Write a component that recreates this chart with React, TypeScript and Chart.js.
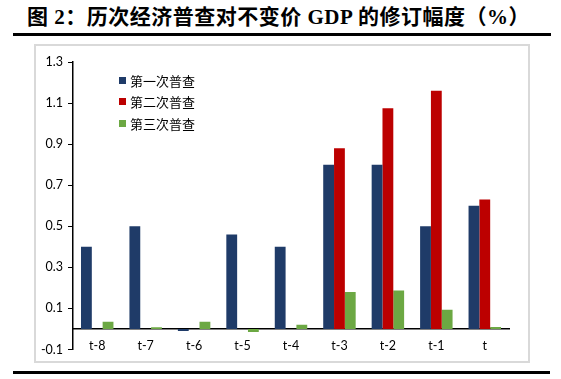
import React, { useEffect, useRef } from "react";
import { Chart, registerables } from "chart.js";

Chart.register(...registerables);

const categories = ["t-8", "t-7", "t-6", "t-5", "t-4", "t-3", "t-2", "t-1", "t"];
const seriesNames = ["第一次普查", "第二次普查", "第三次普查"];
const census1 = [0.4, 0.5, -0.01, 0.46, 0.4, 0.8, 0.8, 0.5, 0.6];
const census2 = [null, null, null, null, null, 0.88, 1.075, 1.16, 0.63];
const census3 = [0.035, 0.008, 0.035, -0.015, 0.02, 0.18, 0.187, 0.093, 0.01];
const seriesColors = ["#1F3B68", "#BC0000", "#6CA843"];
const yTicks = { min: -0.1, max: 1.3, step: 0.2 };
const titleText = "图 2：历次经济普查对不变价 GDP 的修订幅度（%）";

const tickFont = { family: "Lato, 'Liberation Sans', sans-serif", size: 12.5 };

export default function App() {
  const canvasRef = useRef<HTMLCanvasElement | null>(null);

  useEffect(() => {
    const canvas = canvasRef.current;
    if (!canvas) return;
    const chart = new Chart(canvas, {
      type: "bar",
      data: {
        labels: categories,
        datasets: [census1, census2, census3].map((d, i) => ({
          label: seriesNames[i],
          data: d as (number | null)[],
          backgroundColor: seriesColors[i],
          borderWidth: 0,
          categoryPercentage: 0.67,
          barPercentage: 1.0,
        })),
      },
      options: {
        animation: false,
        responsive: false,
        maintainAspectRatio: false,
        layout: { padding: { top: 17, bottom: 12, right: 20, left: 0 } },
        plugins: { legend: { display: false }, tooltip: { enabled: false }, title: { display: false } },
        scales: {
          x: {
            position: { y: 0 } as any,
            grid: { display: false, drawTicks: false },
            border: { display: true, color: "#000", width: 1.5 },
            ticks: { color: "#000", font: tickFont, padding: 10, maxRotation: 0 },
          },
          y: {
            min: yTicks.min,
            max: yTicks.max,
            afterFit: (s: any) => {
              s.width = 38;
            },
            ticks: {
              stepSize: yTicks.step,
              color: "#000",
              font: tickFont,
              padding: 5,
              callback: (v: any) => Number(v).toFixed(1),
            },
            grid: { display: true, drawOnChartArea: false, drawTicks: true, tickLength: 5, color: "#000", lineWidth: 1 },
            border: { display: true, color: "#000", width: 1.5 },
          },
        },
      },
    });
    return () => chart.destroy();
  }, []);

  return (
    <div style={{ position: "absolute", left: 0, top: 0, width: 561, height: 379, background: "#fff", overflow: "hidden" }}>
      <div
        style={{
          position: "absolute",
          left: 27,
          top: 4,
          fontFamily: "'Liberation Serif', 'Noto Sans CJK SC', serif",
          fontWeight: "bold",
          fontSize: 21,
          letterSpacing: 0.5,
          lineHeight: "27px",
          whiteSpace: "nowrap",
          color: "#000",
        }}
      >
        {titleText}
      </div>
      <div style={{ position: "absolute", left: 13, top: 33, width: 538, height: 2.5, background: "#000" }} />
      <div
        style={{
          position: "absolute",
          left: 34,
          top: 44,
          width: 496,
          height: 319,
          border: "2px solid #d9d9d9",
          boxSizing: "border-box",
        }}
      />
      <canvas
        ref={canvasRef}
        width={494}
        height={317}
        style={{ position: "absolute", left: 35, top: 45, width: 494, height: 317 }}
      />
      {seriesNames.map((name, i) => (
        <div
          key={name}
          style={{
            position: "absolute",
            left: 119,
            top: 71 + i * 21.5,
            height: 18,
            display: "flex",
            alignItems: "center",
            fontFamily: "'Noto Sans CJK SC', sans-serif",
            fontSize: 13,
            color: "#000",
            whiteSpace: "nowrap",
          }}
        >
          <span style={{ display: "inline-block", width: 7, height: 7, background: seriesColors[i], marginRight: 4 }} />
          {name}
        </div>
      ))}
      <div style={{ position: "absolute", left: 13, top: 371, width: 537, height: 2.5, background: "#000" }} />
    </div>
  );
}
